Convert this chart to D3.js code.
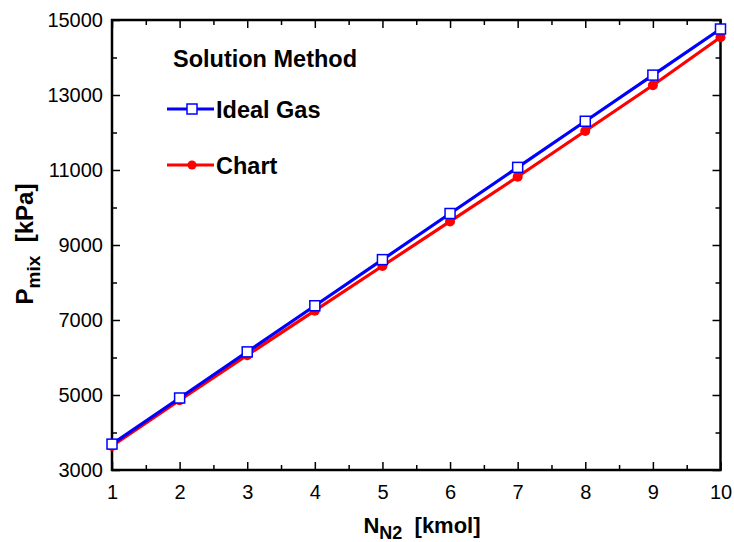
<!DOCTYPE html>
<html>
<head>
<meta charset="utf-8">
<script src="https://cdn.jsdelivr.net/npm/d3@7"></script>
<style>
  body { margin: 0; background: #fff; }
  text { font-family: Arial, "Liberation Sans", sans-serif; }
</style>
</head>
<body>
<svg id="chart" width="734" height="542"></svg>
<script>
// values
var nKmol = [1, 2, 3, 4, 5, 6, 7, 8, 9, 10];
var idealGas = [3690, 4920, 6150, 7380, 8610, 9840, 11070, 12300, 13530, 14760];
var chartMethod = [3640, 4860, 6060, 7250, 8440, 9630, 10820, 12040, 13260, 14540];

var xMajorTicks = [1, 2, 3, 4, 5, 6, 7, 8, 9, 10];
var xMinorTicks = [1.5, 2.5, 3.5, 4.5, 5.5, 6.5, 7.5, 8.5, 9.5];
var yMajorTicks = [3000, 5000, 7000, 9000, 11000, 13000, 15000];
var yMinorTicks = [4000, 6000, 8000, 10000, 12000, 14000];

var series = [
  {name: 'Chart', values: chartMethod, color: '#ff0000', marker: 'circle'},
  {name: 'Ideal Gas', values: idealGas, color: '#0000ff', marker: 'square'}
];

var margin = {top: 20, right: 13.5, bottom: 72, left: 112};
var width = 734 - margin.left - margin.right,
    height = 542 - margin.top - margin.bottom;

var svg = d3.select('#chart');
var g = svg.append('g').attr('transform', 'translate(' + margin.left + ',' + margin.top + ')');

var x = d3.scaleLinear().domain([1, 10]).range([0, width]);
var y = d3.scaleLinear().domain([3000, 15000]).range([height, 0]);

function styleAxis(sel) {
  sel.select('.domain').remove();
  sel.selectAll('.tick line').attr('stroke', '#000').attr('stroke-width', 1.5);
}

// major ticks with labels (bottom, left)
g.append('g').attr('transform', 'translate(0,' + height + ')')
  .call(d3.axisBottom(x).tickValues(xMajorTicks).tickFormat(d3.format('d')).tickSizeInner(-8).tickSizeOuter(0).tickPadding(15))
  .call(styleAxis)
  .selectAll('text').attr('font-size', 20).attr('fill', '#000');

g.append('g')
  .call(d3.axisLeft(y).tickValues(yMajorTicks).tickFormat(d3.format('d')).tickSizeInner(-8).tickSizeOuter(0).tickPadding(9))
  .call(styleAxis)
  .selectAll('text').attr('font-size', 20).attr('fill', '#000');

// unlabelled major ticks (top, right)
g.append('g')
  .call(d3.axisTop(x).tickValues(xMajorTicks).tickFormat('').tickSizeInner(-8).tickSizeOuter(0))
  .call(styleAxis);
g.append('g').attr('transform', 'translate(' + width + ',0)')
  .call(d3.axisRight(y).tickValues(yMajorTicks).tickFormat('').tickSizeInner(-8).tickSizeOuter(0))
  .call(styleAxis);

// minor ticks on all four sides
g.append('g').attr('transform', 'translate(0,' + height + ')')
  .call(d3.axisBottom(x).tickValues(xMinorTicks).tickFormat('').tickSizeInner(-5).tickSizeOuter(0))
  .call(styleAxis);
g.append('g')
  .call(d3.axisTop(x).tickValues(xMinorTicks).tickFormat('').tickSizeInner(-5).tickSizeOuter(0))
  .call(styleAxis);
g.append('g')
  .call(d3.axisLeft(y).tickValues(yMinorTicks).tickFormat('').tickSizeInner(-5).tickSizeOuter(0))
  .call(styleAxis);
g.append('g').attr('transform', 'translate(' + width + ',0)')
  .call(d3.axisRight(y).tickValues(yMinorTicks).tickFormat('').tickSizeInner(-5).tickSizeOuter(0))
  .call(styleAxis);

// frame
g.append('rect')
  .attr('width', width).attr('height', height)
  .attr('fill', 'none').attr('stroke', '#000').attr('stroke-width', 2.5);

// series
var line = d3.line()
  .x(function(d, i) { return x(nKmol[i]); })
  .y(function(d) { return y(d); });

series.forEach(function(s) {
  g.append('path')
    .datum(s.values)
    .attr('fill', 'none')
    .attr('stroke', s.color)
    .attr('stroke-width', 3.2)
    .attr('d', line);

  if (s.marker == 'circle') {
    g.selectAll('.pt-c').data(s.values).enter().append('circle')
      .attr('cx', function(d, i) { return x(nKmol[i]); })
      .attr('cy', function(d) { return y(d); })
      .attr('r', 5)
      .attr('fill', s.color);
  } else {
    g.selectAll('.pt-s').data(s.values).enter().append('rect')
      .attr('x', function(d, i) { return x(nKmol[i]) - 5; })
      .attr('y', function(d) { return y(d) - 5; })
      .attr('width', 10).attr('height', 10)
      .attr('fill', '#fff')
      .attr('stroke', s.color)
      .attr('stroke-width', 1.5);
  }
});

// legend
var legend = svg.append('g');
legend.append('text')
  .attr('x', 173).attr('y', 67)
  .attr('font-size', 23.5).attr('font-weight', 'bold')
  .text('Solution Method');

var legendItems = [
  {label: 'Ideal Gas', s: series[1], y: 109},
  {label: 'Chart', s: series[0], y: 165}
];
legendItems.forEach(function(it) {
  legend.append('line')
    .attr('x1', 167).attr('x2', 214).attr('y1', it.y).attr('y2', it.y)
    .attr('stroke', it.s.color).attr('stroke-width', 3.2);
  if (it.s.marker == 'circle') {
    legend.append('circle').attr('cx', 192).attr('cy', it.y).attr('r', 4.5).attr('fill', it.s.color);
  } else {
    legend.append('rect').attr('x', 187).attr('y', it.y - 5).attr('width', 10).attr('height', 10)
      .attr('fill', '#fff').attr('stroke', it.s.color).attr('stroke-width', 1.5);
  }
  legend.append('text')
    .attr('x', 216).attr('y', it.y + 8.5)
    .attr('font-size', 23.5).attr('font-weight', 'bold')
    .text(it.label);
});

// axis titles
var xTitle = svg.append('text')
  .attr('x', 422).attr('y', 533)
  .attr('text-anchor', 'middle')
  .attr('font-size', 22).attr('font-weight', 'bold');
xTitle.append('tspan').text('N');
xTitle.append('tspan').attr('font-size', 18).attr('dy', 6).text('N2');
xTitle.append('tspan').attr('dy', -6).text('\u00a0 [kmol]');

var yTitle = svg.append('text')
  .attr('transform', 'translate(33,244) rotate(-90)')
  .attr('text-anchor', 'middle')
  .attr('font-size', 24).attr('font-weight', 'bold');
yTitle.append('tspan').text('P');
yTitle.append('tspan').attr('font-size', 19).attr('dy', 7).text('mix');
yTitle.append('tspan').attr('dy', -7).text('\u00a0 [kPa]');
</script>
</body>
</html>
